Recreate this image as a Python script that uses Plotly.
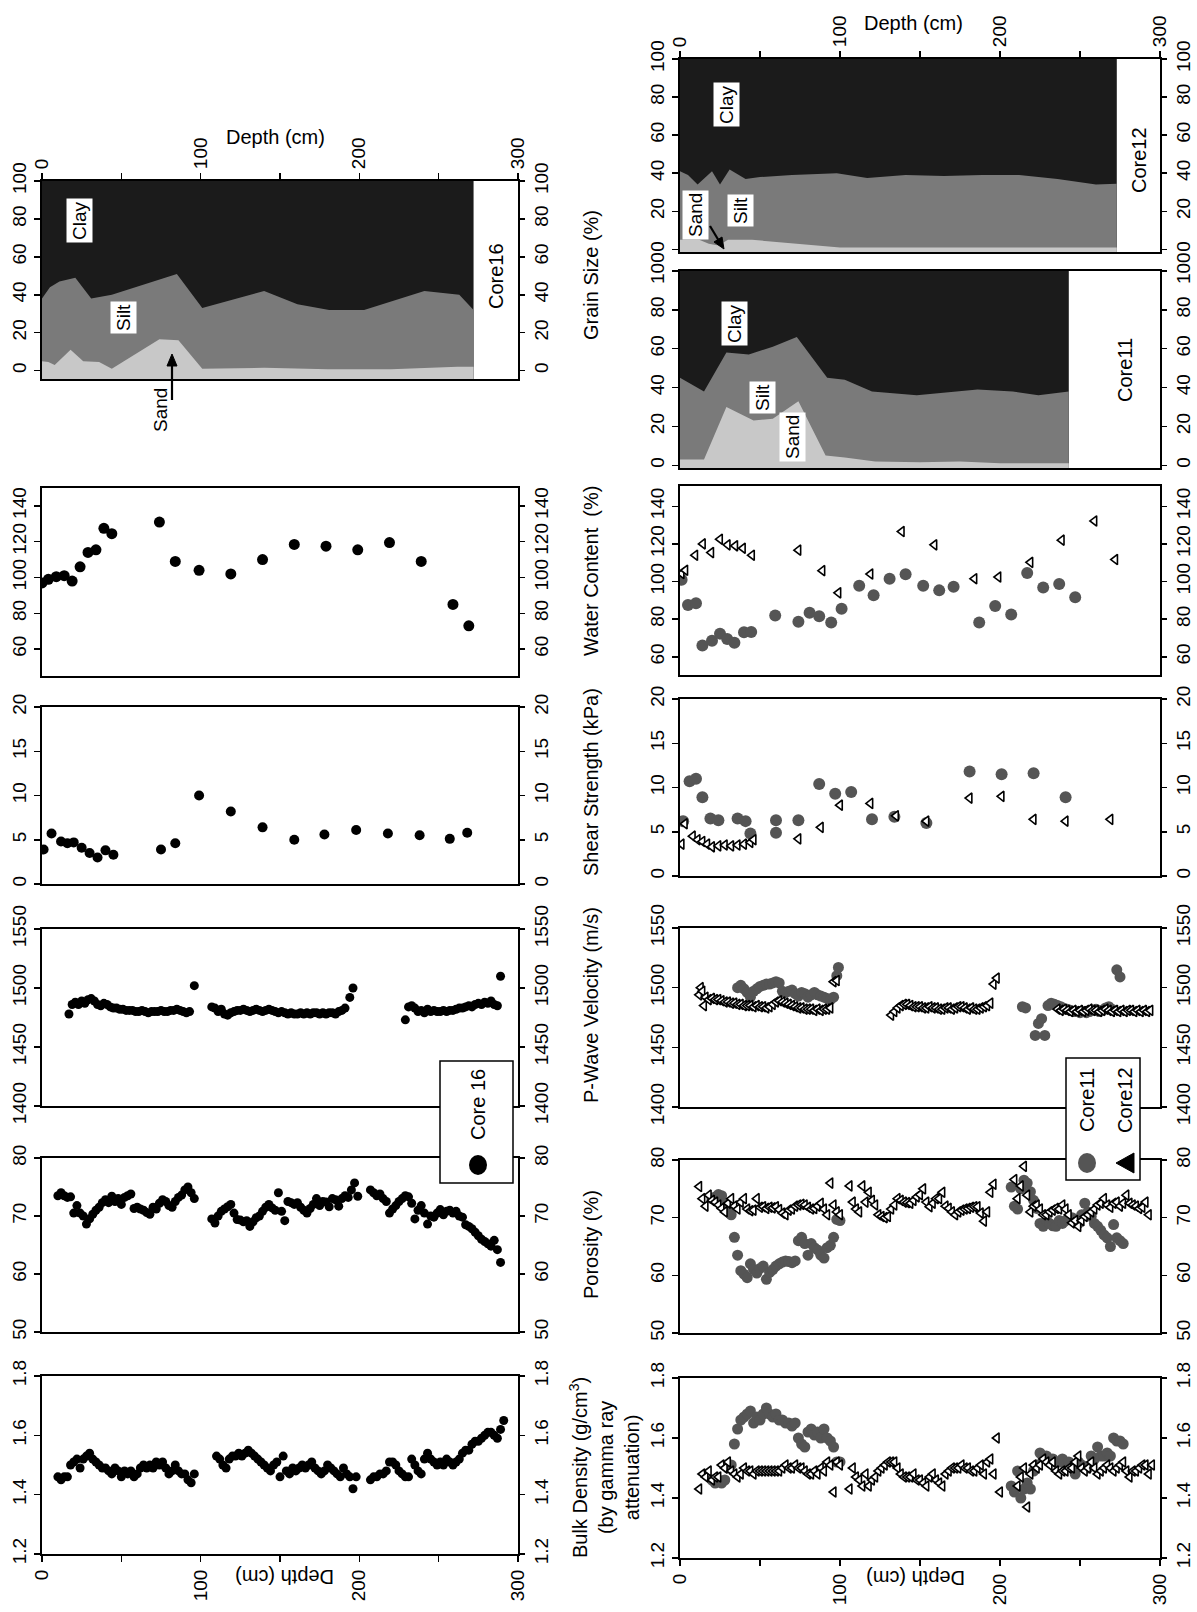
import plotly.graph_objects as go

W, H = 1197, 1612
FONT = "Liberation Sans, Arial, Helvetica, sans-serif"
TICK = 19
TITLE = 20

# ======================= DATA =======================
depth_ticks = [0, 100, 200, 300]
depth_ticktext = ["0", "100", "200", "300"]
depth_minor = [50, 150, 250]

bd_ticks = [1.2, 1.4, 1.6, 1.8]
por_ticks = [50, 60, 70, 80]
pw_ticks = [1400, 1450, 1500, 1550]
sh_ticks = [0, 5, 10, 15, 20]
wc_ticks = [60, 80, 100, 120, 140]
gs_ticks = [0, 20, 40, 60, 80, 100]

# ---- Core 16 (2-cm sample spacing, start depth given) ----
bd16_a_start = 10
bd16_a = [1.46,1.45,1.46,1.46,1.50,1.51,1.52,1.49,1.52,1.53,1.54,1.52,1.51,1.50,1.49,1.49,1.48,1.47,1.49,1.48,
          1.46,1.48,1.47,1.48,1.46,1.47,1.49,1.50,1.49,1.50,1.49,1.51,1.50,1.51,1.49,1.47,1.48,1.50,1.48,1.47,
          1.47,1.45,1.44,1.47]
bd16_b_start = 110
bd16_b = [1.53,1.52,1.50,1.49,1.52,1.53,1.53,1.54,1.53,1.54,1.55,1.54,1.53,1.52,1.51,1.50,1.49,1.48,1.50,1.51,
          1.46,1.53,1.48,1.47,1.49,1.48,1.49,1.50,1.49,1.50,1.51,1.49,1.48,1.47,1.48,1.50,1.49,1.48,1.47,1.46,
          1.49,1.47,1.46,1.42,1.46]
bd16_c_start = 207
bd16_c = [1.45,1.46,1.46,1.47,1.47,1.48,1.51,1.51,1.50,1.48,1.47,1.46,1.46,1.52,1.50,1.48,1.47,1.52,1.54,1.52,
          1.51,1.50,1.51,1.50,1.52,1.51,1.50,1.51,1.52,1.54,1.55,1.55,1.57,1.58,1.58,1.59,1.60,1.61,1.61,1.60,
          1.59,1.62,1.65]

por16_a_start = 10
por16_a = [73.5,74,73.5,73.2,73.3,70.5,71.8,70.5,70,68.6,69.5,70.3,71,71.5,72.3,72.8,72.3,73.4,72.5,73,
           72,73.2,73.5,73.8,71.3,71.5,71.2,71,70.6,70.3,71.5,71.2,72.2,72.8,72.5,71.8,71.5,72.5,73.2,73.6,
           74.5,75,74,73]
por16_b_start = 107
por16_b = [69.5,68.8,70,70.8,71.2,71.6,72,70.5,69.4,69.3,69,69.2,68.2,69,69.7,70,70.8,71.5,72,71.4,
           71,74,70.8,69.2,72.5,72.3,72,72.3,71.5,71,70.5,71.3,72,73,71.8,72.5,72.4,71.6,73,72.8,
           71.7,73,73.5,73.2,74.5,75.7,73.4]
por16_c_start = 207
por16_c = [74.5,74,73.5,73.8,73,72.5,70.5,71.2,71.8,72.5,73,73.5,73.3,72.2,69.5,71,71.8,70.5,68.6,70,
           69.8,70.5,71.1,70.2,70.8,71,70.5,70.8,70,69.8,68.5,68.2,67.8,67.2,66.6,66,65.6,65.2,64.8,65.8,
           64.2,62]

pw16_a_start = 17
pw16_a = [1478,1486,1488,1486,1489,1487,1490,1491,1489,1486,1485,1487,1486,1484,1483,1483,1482,1482,1481,1481,
          1481,1480,1480,1481,1480,1479,1480,1480,1480,1481,1480,1480,1481,1481,1482,1481,1480,1479,1480]
pw16_b_start = 107
pw16_b = [1484,1483,1480,1482,1478,1477,1479,1480,1481,1481,1482,1481,1480,1481,1482,1481,1480,1481,1482,1481,
          1480,1479,1480,1479,1478,1479,1478,1478,1479,1478,1479,1478,1479,1479,1478,1479,1478,1479,1479,1478,
          1480,1481,1483]
pw16_c_start = 229
pw16_c = [1473,1484,1485,1483,1480,1481,1479,1482,1480,1481,1480,1480,1481,1480,1481,1481,1482,1483,1483,1484,
          1485,1484,1486,1487,1486,1488,1487,1489,1486,1485]
pw16_out_d = [96, 194, 196, 289]
pw16_out_v = [1502, 1492, 1500, 1510]

sh16_d = [1, 6, 12, 16, 20, 25, 30, 35, 40, 45, 75, 84, 99, 119, 139, 159, 178, 198, 218, 238, 257, 268]
sh16_v = [3.9, 5.7, 4.8, 4.6, 4.7, 4.1, 3.5, 3.0, 3.8, 3.3, 3.9, 4.6, 10.0, 8.2, 6.4, 5.0, 5.6, 6.1, 5.7, 5.5, 5.1, 5.8]

wc16_d = [0, 4, 9, 14, 19, 24, 29, 34, 39, 44, 74, 84, 99, 119, 139, 159, 179, 199, 219, 239, 259, 269]
wc16_v = [97, 99, 100.5, 101, 98, 106, 114, 115.5, 127.5, 124.5, 131, 109, 104, 102, 110, 118.5, 117.5, 115.5, 119.5, 109, 85, 73]

gs16_max = 272
gs16_top_d = [0, 5, 11, 21, 31, 44, 85, 101, 140, 161, 181, 203, 241, 263, 272]
gs16_top = [38, 44, 47, 49, 38, 40, 51, 33, 42, 35, 32, 32, 42, 40, 32]
gs16_sand_d = [0, 4, 8, 18, 26, 36, 44, 74, 86, 101, 140, 180, 220, 262, 272]
gs16_sand = [5, 4.5, 3, 11, 5, 4.5, 1, 16.5, 16, 1, 1.5, 0.8, 0.8, 2, 2]

# ---- Core 11 ----
bd11_a_start = 20
bd11_a = [1.46,1.45,1.46,1.45,1.46,1.50,1.51,1.58,1.63,1.66,1.67,1.68,1.69,1.65,1.67,1.66,1.68,1.70,1.68,1.67,
          1.68,1.66,1.66,1.65,1.65,1.64,1.65,1.60,1.58,1.57,1.62,1.63,1.61,1.62,1.60,1.63,1.60,1.59,1.57,1.52,1.52]
bd11_b_start = 207
bd11_b = [1.44,1.42,1.49,1.40,1.43,1.45,1.43,1.49,1.51,1.55,1.54,1.54,1.53,1.53,1.52,1.52,1.53,1.51,1.52,1.50,
          1.48,1.52,1.51,1.50,1.50,1.54,1.53,1.57,1.54,1.54,1.55,1.54,1.60,1.59,1.59,1.58]

por11_a_start = 20
por11_a = [73.3,73.6,74,73.8,72.5,71.5,70.5,66.6,63.5,60.8,60.2,59.6,62,61,60.4,61.2,61.6,59.3,60.5,61,
           61.6,62,62.3,62.5,62.4,62.2,62.5,66,66.6,65.5,63.5,65.5,64.8,64.4,63.5,63,64.8,65.2,66.6,69.7,69.5]
por11_b_start = 207
por11_b = [75.3,72,71.5,75,76.5,76,74.5,73,71.6,69,68.5,69.5,69,68.6,68.5,69.5,69,69.5,70,70,
           69.5,69,70.5,72.5,71,70.2,69,68.5,67.8,67,66.5,65,68.8,66.5,66,65.5]

pw11_a_start = 36
pw11_a = [1500,1502,1499,1496,1492,1497,1499,1501,1502,1503,1503,1504,1505,1504,1497,1496,1497,1498,1495,1493,
          1496,1495,1492,1494,1496,1494,1493,1492,1491,1490,1492,1510]
pw11_b_d = [99, 214, 216, 222, 224, 226, 228, 230, 232, 234, 236, 238, 240, 242, 244, 246, 248, 250, 252, 254,
            256, 258, 260, 262, 264, 266, 268, 270, 273, 275]
pw11_b_v = [1517, 1484, 1483, 1460, 1470, 1474, 1460, 1485, 1487, 1486, 1485, 1484, 1482, 1482, 1481, 1480, 1480,
            1479, 1480, 1479, 1480, 1481, 1482, 1480, 1481, 1483, 1484, 1482, 1515, 1509]

sh11_d = [2, 6, 10, 14, 19, 24, 36, 41, 44, 60, 60, 74, 87, 97, 107, 120, 134, 154, 181, 201, 221, 241]
sh11_v = [6.2, 10.7, 11.0, 8.9, 6.5, 6.3, 6.5, 6.2, 4.8, 4.9, 6.3, 6.3, 10.4, 9.3, 9.5, 6.4, 6.7, 6.0, 11.8, 11.5, 11.6, 8.9]

wc11_d = [1, 5, 10, 14, 20, 25, 29.5, 34, 40, 44.5, 59.5, 74, 81, 87, 94.5, 101, 112, 121, 131, 141,
          152, 162, 171, 187, 197, 207, 217, 227, 237, 247]
wc11_v = [101, 87.5, 88.5, 66, 68.5, 72.3, 69.5, 67.5, 73, 73.2, 82, 78.6, 83.4, 81.6, 78.2, 85.5, 97.8, 92.7, 101.5, 103.9,
          97.8, 95.3, 97.2, 78.2, 87, 82.5, 104.5, 96.8, 98.7, 91.6]

gs11_max = 243
gs11_top_d = [0, 15, 29, 43, 58, 73, 92, 103, 120, 148, 172, 186, 208, 224, 243]
gs11_top = [45, 38, 58, 57, 61, 66, 45, 44, 38, 36, 38, 39, 38, 36, 38]
gs11_sand_d = [0, 15, 29, 46, 58, 74, 91, 103, 122, 150, 175, 200, 243]
gs11_sand = [3, 3, 30, 23, 24, 33, 5, 4, 2, 1.5, 2, 1, 1]

# ---- Core 12 ----
bd12_a_start = 12
bd12_a = [1.43,1.48,1.47,1.49,1.46,1.47,1.47,1.51,1.50,1.52,1.49,1.48,1.47,1.48,1.50,1.49,1.49,1.48,1.49,1.49,
          1.49,1.49,1.49,1.49,1.49,1.49,1.50,1.51,1.50,1.50,1.51,1.50,1.50,1.49,1.48,1.48,1.49,1.48,1.50,1.49,
          1.52,1.51,1.42,1.52,1.51]
bd12_b_start = 106
bd12_b = [1.43,1.50,1.47,1.46,1.44,1.48,1.44,1.46,1.47,1.49,1.50,1.51,1.52,1.52,1.52,1.50,1.48,1.47,1.47,1.47,
          1.48,1.46,1.46,1.45,1.44,1.47,1.48,1.46,1.45,1.44,1.48,1.49,1.50,1.50,1.50,1.51,1.50,1.50,1.49,1.49,
          1.50,1.51,1.48,1.52,1.53,1.48,1.60,1.42]
bd12_c_start = 211
bd12_c = [1.44,1.47,1.50,1.37,1.48,1.51,1.50,1.51,1.53,1.52,1.51,1.52,1.49,1.48,1.49,1.49,1.50,1.50,1.52,1.54,
          1.50,1.49,1.50,1.52,1.50,1.48,1.49,1.50,1.51,1.50,1.49,1.50,1.51,1.52,1.49,1.47,1.49,1.49,1.50,1.51,
          1.51,1.48,1.51]

por12_a_start = 12
por12_a = [75.4,73.3,72,73.9,73,72.7,72.2,71.6,71,72.5,73.3,72,71.5,72.7,73.3,71.5,71.2,71.3,73.3,71.8,
           71.9,71.6,71.8,71.7,71.9,71.4,70.8,70.5,71.3,71.5,72,72.2,72.3,72.2,71.8,71.5,71.6,72,72.5,71.5,
           70.5,76,72.2,71,70.5]
por12_b_start = 106
por12_b = [75.5,72.7,71.5,71,75.5,72.7,74.4,73,72.2,70.5,70.2,70,70.2,71.5,72.2,73.3,73,72.7,72.6,72.5,
           73,73.6,74,75,72.7,71.9,72.5,73.3,73.3,74.4,72,71.6,71,70.5,71,71.3,71.5,71.6,71.8,71.9,
           71.9,70.8,69.4,71,74.4,75.8]
por12_c_start = 209
por12_c = [76.6,73.3,75.5,78.9,73.9,71,72,72.2,71.5,70.5,70.5,71,71.3,71.6,71.5,72.2,71.5,70.5,69.1,69.5,
           68.5,69.5,70.2,70.5,71,71.5,72.2,72.5,73.3,72.2,71.8,72.5,72.7,72,72.5,73.9,72.5,72.2,72,71.6,
           71.8,72.7,70.5]

pw12_a_d = [12, 13, 14, 15, 16]
pw12_a_v = [1494, 1500, 1497, 1485, 1492]
pw12_b_start = 18
pw12_b = [1490,1491,1490,1490,1489,1488,1488,1487,1487,1486,1486,1485,1485,1485,1484,1485,1484,1484,1483,1484,
          1486,1488,1489,1488,1487,1486,1485,1484,1483,1483,1482,1482,1482,1481,1482,1481,1482,1482,1483,1505,1506]
pw12_c_start = 132
pw12_c = [1477,1480,1483,1485,1486,1486,1485,1484,1484,1484,1483,1483,1484,1483,1483,1482,1482,1483,1483,1482,
          1483,1484,1484,1483,1482,1483,1482,1482,1483,1484,1485,1487,1503,1508]
pw12_d_start = 236
pw12_d = [1482,1481,1482,1481,1480,1481,1480,1481,1480,1481,1482,1481,1481,1480,1481,1482,1481,1480,1481,1480,
          1481,1480,1481,1481,1480,1481,1480,1481,1480,1481]

sh12_d = [1, 3, 8, 11, 14, 17, 20, 24, 28, 32, 36, 40, 44, 46, 74, 88, 100, 119, 135, 154, 181, 201, 221, 241, 269]
sh12_v = [3.6, 5.9, 4.5, 4.1, 3.9, 3.6, 3.3, 3.4, 3.5, 3.4, 3.5, 3.6, 3.8, 4.1, 4.2, 5.5, 8.0, 8.2, 6.8, 6.2, 8.8, 9.0, 6.4, 6.2, 6.4]

wc12_d = [1, 3.3, 9.5, 14.3, 19.5, 25, 29.8, 34.5, 39.3, 45, 74, 89, 99, 119, 138.6, 159, 184, 199, 219, 238.6, 259, 272]
wc12_v = [104.3, 106, 114, 120, 115.4, 122.5, 119.5, 119, 117.7, 114, 116.7, 105.8, 94, 104, 126.6, 119.5, 101.5, 102.4,
          110.2, 122, 132.2, 111.7]

gs12_max = 273
gs12_top_d = [0, 5, 11, 20, 25, 31, 41, 50, 70, 98, 117, 141, 165, 189, 212, 236, 260, 273]
gs12_top = [41, 39, 34, 41, 34, 42, 37, 38, 39, 40, 37.5, 39, 38.5, 39, 39, 37, 34, 34.5]
gs12_sand_d = [0, 12, 18, 24, 30, 45, 60, 80, 100, 150, 200, 273]
gs12_sand = [5, 5, 3, 2, 5, 5, 4, 2.5, 1, 1, 1, 1]

CLAY, SILT, SAND = "#1b1b1b", "#7a7a7a", "#c8c8c8"
GRAY = "#555555"


def seq(start, vals):
    return [start + 2 * k for k in range(len(vals))]


# ======================= FIGURE =======================
fig = go.Figure()
layout = dict(
    width=W, height=H, margin=dict(l=0, r=0, t=0, b=0, pad=0, autoexpand=False),
    paper_bgcolor="white", plot_bgcolor="white", showlegend=False,
    font=dict(family=FONT, color="black"),
)
tickfont = dict(family=FONT, size=TICK, color="black")
base = dict(showgrid=False, zeroline=False, linecolor="black", linewidth=2,
            ticks="outside", tickcolor="black", tickwidth=1.5, ticklen=6,
            tickfont=tickfont, fixedrange=True, automargin=False)
counter = [0]


def panel(xpx, ypx, yrange, yticks, xmode):
    counter[0] += 1
    i = counter[0]
    sfx = "" if i == 1 else str(i)
    xdom = [xpx[0] / W, xpx[1] / W]
    ydom = [1 - ypx[1] / H, 1 - ypx[0] / H]
    xa = dict(base, domain=xdom, range=[0, 300], anchor="y" + sfx, showline=True, mirror=True)
    if xmode in ("bottom", "top"):
        xa.update(side=xmode, tickvals=depth_ticks, ticktext=depth_ticktext, tickangle=-90,
                  minor=dict(tickvals=depth_minor, ticks="outside", ticklen=6, tickwidth=1.5,
                             tickcolor="black", showgrid=False))
    else:
        xa.update(ticks="", showticklabels=False)
    ytext = [("%g" % v) for v in yticks]
    ya = dict(base, domain=ydom, range=yrange, anchor="x" + sfx, showline=True, mirror=True,
              tickvals=yticks, ticktext=ytext, tickangle=-90, side="left")
    yb = dict(base, domain=ydom, range=yrange, anchor="x" + sfx, overlaying="y" + sfx,
              side="right", tickvals=yticks, ticktext=ytext, tickangle=-90, showline=False)
    layout["xaxis" + sfx] = xa
    layout["yaxis" + sfx] = ya
    layout["yaxis%d" % (i + 20)] = yb
    fig.add_trace(go.Scatter(x=[None], y=[None], xaxis="x" + sfx, yaxis="y%d" % (i + 20),
                             mode="markers", showlegend=False, hoverinfo="skip"))
    return "x" + sfx, "y" + sfx


def pts(ax, x, y, kind, size):
    if kind == "c16":
        marker = dict(symbol="circle", size=size, color="black", line=dict(width=0))
    elif kind == "c11":
        marker = dict(symbol="circle", size=size, color=GRAY, line=dict(width=0))
    else:
        marker = dict(symbol="triangle-left", size=size, color="white", line=dict(width=1.6, color="black"))
    fig.add_trace(go.Scatter(x=x, y=y, mode="markers", marker=marker, xaxis=ax[0], yaxis=ax[1],
                             showlegend=False, hoverinfo="skip"))


def grain(ax, maxd, top_d, top, sand_d, sand):
    fig.add_trace(go.Scatter(x=[0, 0, maxd, maxd], y=[-6, 100, 100, -6], fill="toself", fillcolor=CLAY,
                             mode="lines", line=dict(width=0, color=CLAY), xaxis=ax[0], yaxis=ax[1], hoverinfo="skip"))
    fig.add_trace(go.Scatter(x=[0] + top_d + [maxd], y=[-6] + top + [-6], fill="toself", fillcolor=SILT,
                             mode="lines", line=dict(width=0, color=SILT), xaxis=ax[0], yaxis=ax[1], hoverinfo="skip"))
    fig.add_trace(go.Scatter(x=[0] + sand_d + [maxd], y=[-6] + sand + [-6], fill="toself", fillcolor=SAND,
                             mode="lines", line=dict(width=0, color=SAND), xaxis=ax[0], yaxis=ax[1], hoverinfo="skip"))


XL = (42, 518)
XR = (680, 1160)

# ---- Core 16 column ----
a = panel(XL, (181, 379), [-4.4, 100], gs_ticks, "top")
grain(a, gs16_max, gs16_top_d, gs16_top, gs16_sand_d, gs16_sand)
a = panel(XL, (488, 676), [45, 150], wc_ticks, "none")
pts(a, wc16_d, wc16_v, "c16", 11)
a = panel(XL, (707, 884), [0, 20], sh_ticks, "none")
pts(a, sh16_d, sh16_v, "c16", 10)
a = panel(XL, (929, 1106), [1400, 1550], pw_ticks, "none")
pts(a, seq(pw16_a_start, pw16_a) + seq(pw16_b_start, pw16_b) + seq(pw16_c_start, pw16_c) + pw16_out_d,
    pw16_a + pw16_b + pw16_c + pw16_out_v, "c16", 9)
a = panel(XL, (1158, 1332), [50, 80], por_ticks, "none")
pts(a, seq(por16_a_start, por16_a) + seq(por16_b_start, por16_b) + seq(por16_c_start, por16_c),
    por16_a + por16_b + por16_c, "c16", 9)
a = panel(XL, (1376, 1554), [1.2, 1.8], bd_ticks, "bottom")
pts(a, seq(bd16_a_start, bd16_a) + seq(bd16_b_start, bd16_b) + seq(bd16_c_start, bd16_c),
    bd16_a + bd16_b + bd16_c, "c16", 9)

# ---- Core 11 / 12 column ----
a = panel(XR, (59, 252), [-1.4, 100], gs_ticks, "top")
grain(a, gs12_max, gs12_top_d, gs12_top, gs12_sand_d, gs12_sand)
a = panel(XR, (271, 468), [-1.4, 100], gs_ticks, "none")
grain(a, gs11_max, gs11_top_d, gs11_top, gs11_sand_d, gs11_sand)
a = panel(XR, (486, 675), [50.3, 150.8], wc_ticks, "none")
pts(a, wc11_d, wc11_v, "c11", 12)
pts(a, wc12_d, wc12_v, "c12", 9)
a = panel(XR, (699, 876), [0, 20], sh_ticks, "none")
pts(a, sh11_d, sh11_v, "c11", 12)
pts(a, sh12_d, sh12_v, "c12", 9)
a = panel(XR, (928, 1107), [1400, 1550], pw_ticks, "none")
pts(a, seq(pw11_a_start, pw11_a) + pw11_b_d, pw11_a + pw11_b_v, "c11", 11)
pts(a, pw12_a_d + seq(pw12_b_start, pw12_b) + seq(pw12_c_start, pw12_c) + seq(pw12_d_start, pw12_d),
    pw12_a_v + pw12_b + pw12_c + pw12_d, "c12", 9)
a = panel(XR, (1160, 1333), [50, 80], por_ticks, "none")
pts(a, seq(por11_a_start, por11_a) + seq(por11_b_start, por11_b), por11_a + por11_b, "c11", 11)
pts(a, seq(por12_a_start, por12_a) + seq(por12_b_start, por12_b) + seq(por12_c_start, por12_c),
    por12_a + por12_b + por12_c, "c12", 9)
a = panel(XR, (1378, 1558), [1.2, 1.8], bd_ticks, "bottom")
pts(a, seq(bd11_a_start, bd11_a) + seq(bd11_b_start, bd11_b), bd11_a + bd11_b, "c11", 11)
pts(a, seq(bd12_a_start, bd12_a) + seq(bd12_b_start, bd12_b) + seq(bd12_c_start, bd12_c),
    bd12_a + bd12_b + bd12_c, "c12", 9)

# ======================= TEXT =======================
ann = []
shapes = []


def txt(px, py, s, size=TITLE, angle=-90, box=False, xanchor="center"):
    d = dict(x=px / W, y=1 - py / H, xref="paper", yref="paper", text=s, showarrow=False,
             textangle=angle, font=dict(family=FONT, size=size, color="black"),
             xanchor=xanchor, yanchor="middle")
    if box:
        d.update(bgcolor="white", borderpad=2)
    ann.append(d)


def P(px, py):
    return "%f,%f" % (px / W, 1 - py / H)


def arrow(x0, y0, x1, y1, hx, hy):
    shapes.append(dict(type="line", xref="paper", yref="paper", x0=x0 / W, y0=1 - y0 / H,
                       x1=x1 / W, y1=1 - y1 / H, line=dict(color="black", width=2.2), layer="above"))
    shapes.append(dict(type="path", xref="paper", yref="paper",
                       path="M %s L %s L %s Z" % (P(*hx), P(*hy[0]), P(*hy[1])),
                       fillcolor="black", line=dict(color="black", width=1), layer="above"))


# axis titles (middle column)
txt(591, 275, "Grain Size (%)")
txt(591, 571, "Water Content  (%)")
txt(591, 782, "Shear Strength (kPa)")
txt(591, 1005, "P-Wave Velocity (m/s)")
txt(591, 1245, "Porosity (%)")
txt(604, 1468, "Bulk Density (g/cm<sup>3</sup>)<br>(by gamma ray<br>attenuation)")

# depth titles
txt(275, 137, "Depth (cm)", angle=0)
txt(913, 23, "Depth (cm)", angle=0)
txt(285, 1577, "Depth (cm)", angle=180)
txt(916, 1578, "Depth (cm)", angle=180)

# grain-size labels
txt(80, 221, "Clay", size=TICK, box=True)
txt(123, 318, "Silt", size=TICK, box=True)
txt(160, 410, "Sand", size=TICK)
txt(734, 324, "Clay", size=TICK, box=True)
txt(762, 398, "Silt", size=TICK, box=True)
txt(792, 437, "Sand", size=TICK, box=True)
txt(727, 105, "Clay", size=TICK, box=True)
txt(741, 211, "Silt", size=TICK, box=True)
txt(695, 215, "Sand", size=TICK, box=True)
txt(496, 276, "Core16")
txt(1125, 370, "Core11")
txt(1139, 160, "Core12")

# arrows (Sand pointers)
arrow(172, 400, 172, 364, (172, 354), [(167, 366), (177, 366)])
arrow(710, 226, 719, 241, (724, 249), [(714, 242), (722, 237)])


def prect(x0, y0, x1, y1):
    shapes.append(dict(type="rect", xref="paper", yref="paper", x0=x0 / W, x1=x1 / W,
                       y0=1 - y1 / H, y1=1 - y0 / H, fillcolor="white",
                       line=dict(color="black", width=1.5), layer="above"))


def pcircle(cx, cy, r, color):
    shapes.append(dict(type="circle", xref="paper", yref="paper", x0=(cx - r) / W, x1=(cx + r) / W,
                       y0=1 - (cy + r * 1.1) / H, y1=1 - (cy - r * 1.1) / H, fillcolor=color,
                       line=dict(color=color, width=0), layer="above"))


# legends
prect(440, 1061, 513, 1183)
pcircle(478, 1165, 9, "black")
txt(478, 1105, "Core 16")

prect(1066, 1058, 1140, 1180)
pcircle(1087, 1163, 9, GRAY)
shapes.append(dict(type="path", xref="paper", yref="paper",
                   path="M %s L %s L %s Z" % (P(1116, 1163), P(1134, 1153), P(1134, 1173)),
                   fillcolor="black", line=dict(color="black", width=1), layer="above"))
txt(1087, 1100, "Core11")
txt(1125, 1100, "Core12")

layout["annotations"] = ann
layout["shapes"] = shapes
fig.update_layout(**layout)
fig.write_html("out.html", config={"displayModeBar": False, "staticPlot": True},
               post_script="document.body.style.margin='0px';document.body.style.overflow='hidden';")
